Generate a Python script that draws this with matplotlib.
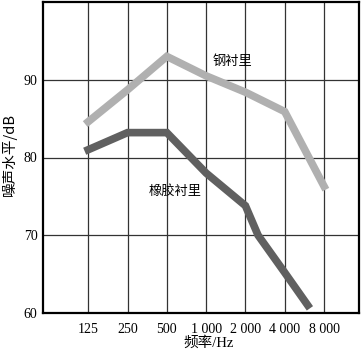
import matplotlib
matplotlib.use("Agg")
import matplotlib.pyplot as plt
import numpy as np

# Data
freq_ticks = [125, 250, 500, 1000, 2000, 4000, 8000]
freq_tick_labels = ["125", "250", "500", "1 000", "2 000", "4 000", "8 000"]
y_ticks = [60, 70, 80, 90]

steel_freq = [125, 250, 500, 1000, 2000, 4000, 8000]
steel_db = [84.6, 88.7, 93.0, 90.5, 88.4, 85.9, 76.3]

rubber_freq = [125, 250, 500, 1000, 2000, 2500, 4000, 6000]
rubber_db = [81.0, 83.2, 83.2, 78.0, 73.8, 70.0, 65.2, 61.0]

W, H = 361, 351
fig = plt.figure(figsize=(W/100, H/100), dpi=100)
ax = fig.add_axes([43/W, (H-313)/H, (359-43)/W, (313-2)/H])

ax.set_xscale('log', base=2)
ax.set_xlim(125*2**-1.15, 8000*2**0.89)
ax.set_ylim(60, 100)

for f in freq_ticks:
    ax.axvline(f, color='#333333', lw=0.9, zorder=1)
for v in y_ticks[1:]:
    ax.axhline(v, color='#333333', lw=0.9, zorder=1)

ax.plot(steel_freq, steel_db, color='#b0b0b0', lw=5.5,
        solid_capstyle='projecting', solid_joinstyle='miter', zorder=3)
ax.plot(rubber_freq, rubber_db, color='#606060', lw=5.5,
        solid_capstyle='projecting', solid_joinstyle='miter', zorder=3)

ax.set_xticks(freq_ticks)
ax.set_xticklabels(freq_tick_labels)
ax.minorticks_off()
ax.set_yticks(y_ticks)
ax.tick_params(axis='both', length=0, labelsize=10)
ax.tick_params(axis='x', pad=7)
ax.tick_params(axis='y', pad=4)
for lab in ax.get_xticklabels() + ax.get_yticklabels():
    lab.set_fontfamily('Liberation Serif')

for s in ax.spines.values():
    s.set_linewidth(1.6)
    s.set_color('black')

cjk = ['Noto Sans CJK SC', 'DejaVu Sans']
fig.text(232/W, 1-62/H, '钢衬里', family=cjk, fontsize=9.5, ha='center', va='center')
fig.text(175/W, 1-191/H, '橡胶衬里', family=cjk, fontsize=9.5, ha='center', va='center')

fig.text(209/W, 1-343/H, '频率/Hz', family=['Liberation Serif', 'Noto Sans CJK SC'],
         fontsize=10.5, ha='center', va='center')
fig.text(9/W, 1-155/H, '噪声水平/dB', family=cjk, fontsize=10.5, ha='center', va='center',
         rotation=90)

fig.savefig('out.png', dpi=100)
